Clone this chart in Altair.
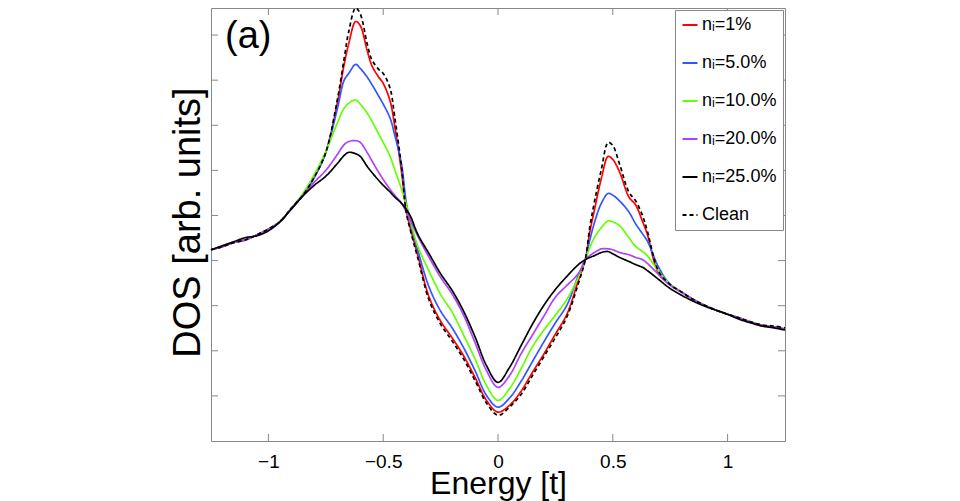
import altair as alt
import pandas as pd

# Energy grid (t)
energy = [-1.25, -1.2, -1.15, -1.1, -1.05, -1.0, -0.95, -0.9, -0.85, -0.8,
          -0.75, -0.7, -0.67, -0.65, -0.62, -0.6, -0.57, -0.55, -0.52, -0.5,
          -0.47, -0.45, -0.42, -0.4, -0.38, -0.35, -0.3, -0.25, -0.2, -0.15,
          -0.1, -0.05, 0.0, 0.05, 0.1, 0.15, 0.2, 0.25, 0.3, 0.35,
          0.38, 0.4, 0.42, 0.45, 0.48, 0.5, 0.53, 0.57, 0.6, 0.63,
          0.65, 0.7, 0.75, 0.8, 0.85, 0.9, 0.95, 1.0, 1.05, 1.1,
          1.15, 1.2, 1.25]

dos_clean = [4.24, 4.31, 4.40, 4.46, 4.57, 4.70, 4.86, 5.16, 5.45, 5.85,
             6.40, 7.56, 8.48, 9.08, 9.60, 9.47, 8.81, 8.46, 8.24, 8.15,
             7.82, 7.19, 6.07, 5.08, 4.64, 4.07, 3.12, 2.59, 2.22, 1.82,
             1.34, 0.84, 0.57, 0.75, 1.03, 1.45, 1.87, 2.29, 2.75, 3.49,
             4.02, 4.75, 5.30, 6.02, 6.62, 6.55, 6.13, 5.52, 5.32, 4.99,
             4.66, 3.76, 3.47, 3.30, 3.14, 3.01, 2.90, 2.81, 2.73, 2.64,
             2.57, 2.55, 2.51]

dos_n1 = [4.24, 4.31, 4.40, 4.46, 4.57, 4.70, 4.86, 5.16, 5.45, 5.85,
          6.40, 7.49, 8.35, 8.81, 9.30, 9.21, 8.66, 8.33, 8.07, 7.93,
          7.54, 6.99, 5.96, 5.12, 4.68, 4.13, 3.19, 2.66, 2.29, 1.89,
          1.41, 0.90, 0.64, 0.79, 1.10, 1.52, 1.93, 2.37, 2.81, 3.56,
          4.02, 4.64, 5.12, 5.82, 6.31, 6.24, 5.96, 5.41, 5.23, 4.86,
          4.59, 3.71, 3.47, 3.30, 3.14, 3.01, 2.90, 2.81, 2.73, 2.64,
          2.55, 2.53, 2.48]

dos_n5 = [4.24, 4.31, 4.40, 4.46, 4.57, 4.70, 4.86, 5.16, 5.45, 5.85,
          6.40, 7.36, 8.00, 8.15, 8.35, 8.26, 8.07, 7.91, 7.65, 7.47,
          7.16, 6.79, 6.13, 5.30, 4.81, 4.24, 3.41, 2.88, 2.51, 2.07,
          1.56, 1.01, 0.75, 0.95, 1.32, 1.76, 2.20, 2.62, 3.01, 3.67,
          4.02, 4.46, 4.84, 5.27, 5.49, 5.45, 5.32, 5.08, 4.81, 4.59,
          4.44, 3.85, 3.47, 3.30, 3.14, 3.01, 2.90, 2.81, 2.73, 2.64,
          2.57, 2.53, 2.48]

dos_n10 = [4.24, 4.31, 4.40, 4.46, 4.57, 4.70, 4.86, 5.16, 5.49, 5.91,
           6.42, 7.05, 7.38, 7.49, 7.56, 7.47, 7.27, 7.10, 6.81, 6.62,
           6.31, 6.02, 5.58, 5.25, 4.86, 4.33, 3.76, 3.25, 2.86, 2.35,
           1.82, 1.23, 0.90, 1.16, 1.60, 2.09, 2.46, 2.79, 3.14, 3.63,
           4.02, 4.29, 4.51, 4.73, 4.88, 4.86, 4.77, 4.51, 4.31, 4.20,
           4.11, 3.76, 3.47, 3.30, 3.14, 3.01, 2.90, 2.81, 2.73, 2.64,
           2.57, 2.53, 2.48]

dos_n20 = [4.24, 4.31, 4.40, 4.46, 4.57, 4.70, 4.86, 5.16, 5.45, 5.74,
           6.00, 6.35, 6.57, 6.64, 6.66, 6.62, 6.40, 6.22, 5.96, 5.80,
           5.58, 5.45, 5.27, 5.08, 4.88, 4.55, 4.07, 3.63, 3.26, 2.79,
           2.18, 1.56, 1.19, 1.45, 1.93, 2.35, 2.77, 3.19, 3.45, 3.71,
           4.02, 4.11, 4.18, 4.26, 4.26, 4.24, 4.18, 4.13, 4.07, 4.02,
           3.94, 3.69, 3.45, 3.30, 3.14, 3.01, 2.90, 2.81, 2.73, 2.64,
           2.57, 2.53, 2.48]

dos_n25 = [4.24, 4.33, 4.42, 4.51, 4.55, 4.66, 4.86, 5.14, 5.43, 5.67,
           5.87, 6.15, 6.33, 6.40, 6.37, 6.31, 6.09, 5.96, 5.78, 5.67,
           5.52, 5.41, 5.27, 5.14, 4.97, 4.59, 4.15, 3.71, 3.34, 2.88,
           2.31, 1.67, 1.30, 1.63, 2.11, 2.59, 3.01, 3.36, 3.65, 3.91,
           4.02, 4.07, 4.11, 4.18, 4.20, 4.15, 4.07, 3.98, 3.91, 3.85,
           3.78, 3.58, 3.38, 3.23, 3.10, 2.99, 2.90, 2.81, 2.70, 2.62,
           2.55, 2.51, 2.46]

labels = ["n\u1d62=1%", "n\u1d62=5.0%", "n\u1d62=10.0%", "n\u1d62=20.0%", "n\u1d62=25.0%", "Clean"]
colors = ["#ff0000", "#3355ff", "#66ff00", "#b040ff", "#000000", "#000000"]
dashes = [[1, 0], [1, 0], [1, 0], [1, 0], [1, 0], [4, 3]]
series_values = [dos_n1, dos_n5, dos_n10, dos_n20, dos_n25, dos_clean]

x_ticks = [-1, -0.5, 0, 0.5, 1]
y_ticks = [1, 2, 3, 4, 5, 6, 7, 8, 9]

rows = []
for lab, vals in zip(labels, series_values):
    for e, v in zip(energy, vals):
        rows.append({"E": e, "DOS": v, "series": lab})
df = pd.DataFrame(rows)

FONT = "Liberation Sans, Arial, Helvetica, sans-serif"
W, H = 574, 433
FRAME = "#888888"

legend = alt.Legend(
    title=None, orient="top-right", offset=2, padding=6,
    strokeColor=FRAME, fillColor="white",
    labelFont=FONT, labelFontSize=18, labelColor="black", labelOffset=3,
    symbolType="stroke", symbolSize=225, symbolStrokeWidth=2,
    rowPadding=20,
)

xscale = alt.Scale(domain=[-1.25, 1.25], nice=False, zero=False)
yscale = alt.Scale(domain=[0, 9.6], nice=False, zero=False)

lines = alt.Chart(df).mark_line(strokeWidth=1.7, interpolate="catmull-rom").encode(
    x=alt.X("E:Q", scale=xscale,
            axis=alt.Axis(values=x_ticks, format="~g", ticks=False, tickSize=0,
                          domain=False, grid=False,
                          labelFont=FONT, labelFontSize=19, labelColor="black",
                          labelBaseline="alphabetic", labelPadding=26,
                          title="Energy [t]", titleFont=FONT, titleFontSize=32,
                          titleFontWeight="normal", titleColor="black",
                          titleBaseline="alphabetic", titleY=52)),
    y=alt.Y("DOS:Q", scale=yscale,
            axis=alt.Axis(labels=False, ticks=False, tickSize=0, domain=False, grid=False,
                          title="DOS [arb. units]",
                          titleFont=FONT,
                          titleFontSize=38, titleFontWeight="normal", titleColor="black",
                          titleX=-12, titleY=214, titleBaseline="alphabetic")),
    color=alt.Color("series:N", scale=alt.Scale(domain=labels, range=colors), legend=legend),
    strokeDash=alt.StrokeDash("series:N", scale=alt.Scale(domain=labels, range=dashes), legend=legend),
)

xt = pd.DataFrame({"E": x_ticks})
yt = pd.DataFrame({"DOS": y_ticks})
tick_style = dict(color=FRAME, strokeWidth=1)

bottom_ticks = alt.Chart(xt).mark_rule(**tick_style).encode(
    x=alt.X("E:Q", scale=xscale), y=alt.value(H), y2=alt.value(H - 7))
top_ticks = alt.Chart(xt).mark_rule(**tick_style).encode(
    x=alt.X("E:Q", scale=xscale), y=alt.value(0), y2=alt.value(7))
left_ticks = alt.Chart(yt).mark_rule(**tick_style).encode(
    y=alt.Y("DOS:Q", scale=yscale), x=alt.value(0), x2=alt.value(7))
right_ticks = alt.Chart(yt).mark_rule(**tick_style).encode(
    y=alt.Y("DOS:Q", scale=yscale), x=alt.value(W), x2=alt.value(W - 7))

panel = alt.Chart(pd.DataFrame({"t": ["(a)"]})).mark_text(
    font=FONT, fontSize=38, align="left", baseline="alphabetic", color="black"
).encode(text="t:N", x=alt.value(14), y=alt.value(40))

chart = alt.layer(
    bottom_ticks, top_ticks, left_ticks, right_ticks, lines, panel
).properties(
    width=W, height=H,
    padding={"left": 203, "top": 0, "right": 20, "bottom": 62},
    autosize=alt.AutoSizeParams(type="none"),
    background="white",
).configure_view(stroke=FRAME, strokeWidth=1)

chart.save("out.html", embed_options={"renderer": "svg", "actions": False})
